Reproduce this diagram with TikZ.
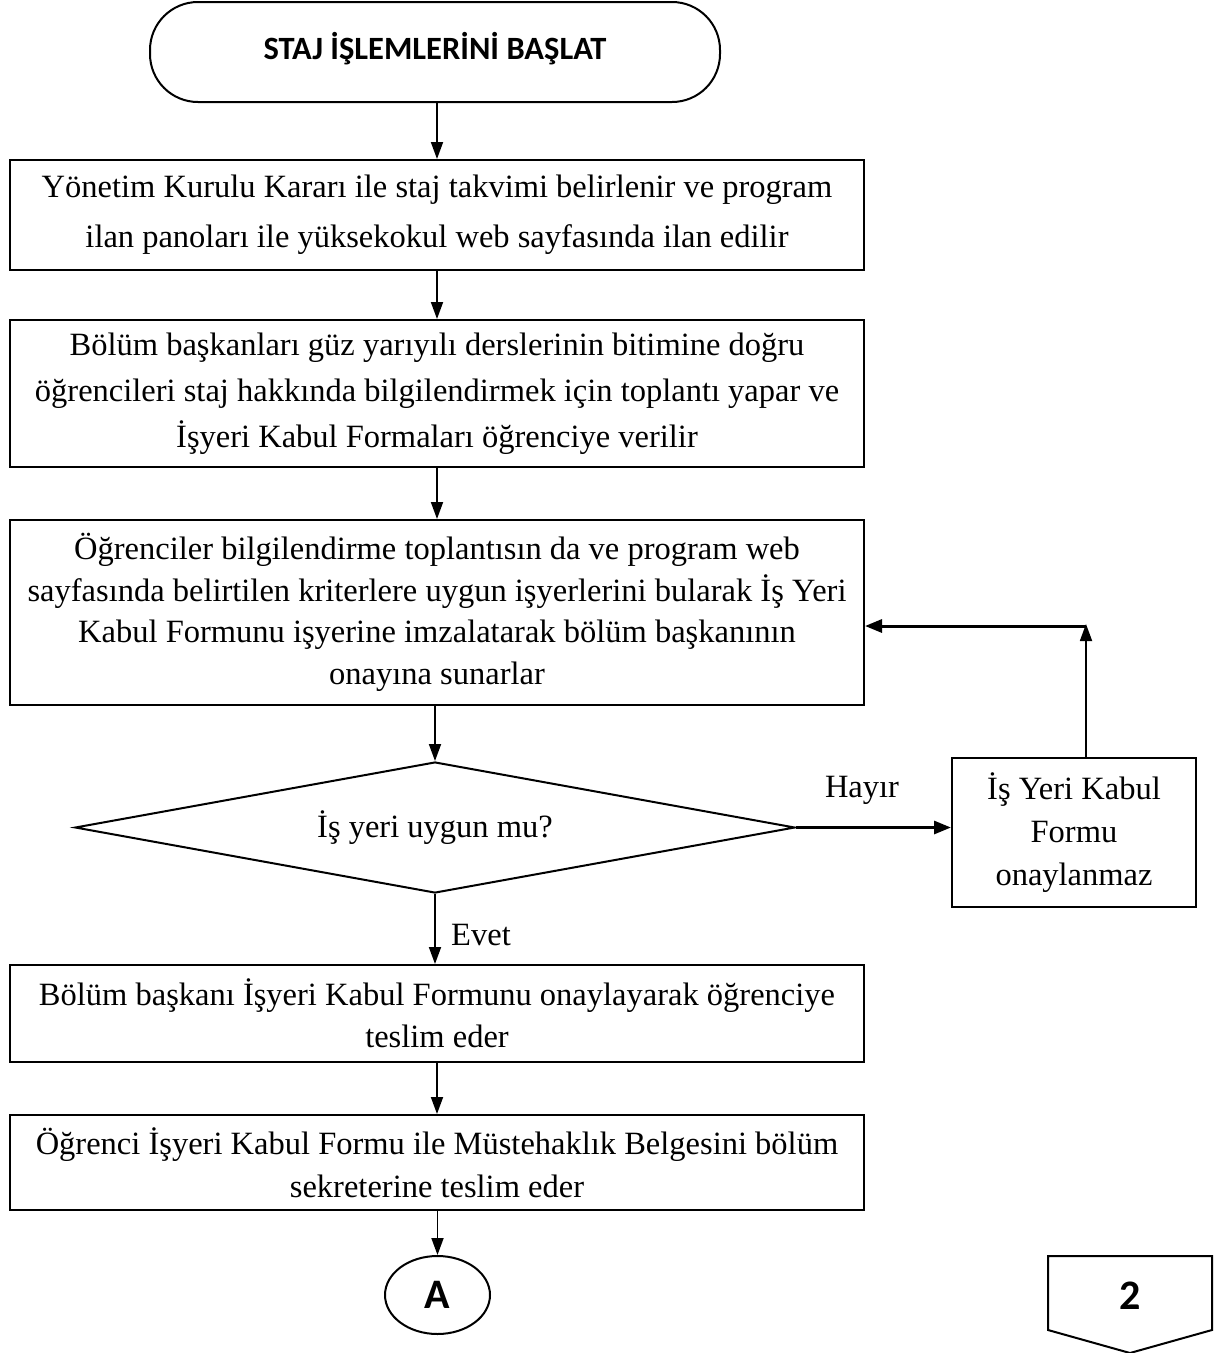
\documentclass[tikz,border=0pt]{standalone}
\usepackage{fontspec}
\setmainfont{Liberation Serif}
\newfontfamily\calib{Carlito}
\usetikzlibrary{arrows.meta,shapes.geometric}
\tikzset{
  box/.style={draw, line width=2, rectangle, inner sep=0, align=center,
    minimum width=854, font=\fontsize{32.5}{#1}\selectfont},
  box/.default=44,
  conn/.style={line width=1.8, -{Triangle[length=17,width=12]}},
  thick conn/.style={line width=3, -{Triangle[length=17,width=13]}},
  lbl/.style={font=\fontsize{32.5}{38}\selectfont, inner sep=0},
}
\begin{document}
\begin{tikzpicture}[x=1pt,y=-1pt]
\useasboundingbox (0,0) rectangle (1214,1353);
% start terminal
\node[draw, line width=2, rounded corners=48, minimum width=570, minimum height=100,
  inner sep=0, font=\calib\bfseries\fontsize{32.5}{38}\selectfont, text depth=12]
  (start) at (435,52) {STAJ İŞLEMLERİNİ BAŞLAT};
% process boxes
\node[box=50, minimum height=110] (b2) at (437,215)
  {Yönetim Kurulu Kararı ile staj takvimi belirlenir ve program\\
   ilan panoları ile yüksekokul web sayfasında ilan edilir};
\node[box=46, minimum height=147] (b3) at (437,393.5)
  {Bölüm başkanları güz yarıyılı derslerinin bitimine doğru\\
   öğrencileri staj hakkında bilgilendirmek için toplantı yapar ve\\
   İşyeri Kabul Formaları öğrenciye verilir};
\node[box=41.5, minimum height=185] (b4) at (437,612.5)
  {Öğrenciler bilgilendirme toplantısın da ve program web\\
   sayfasında belirtilen kriterlere uygun işyerlerini bularak İş Yeri\\
   Kabul Formunu işyerine imzalatarak bölüm başkanının\\
   onayına sunarlar};
% decision
\node[draw, line width=2, diamond, aspect=5.5, minimum width=720, minimum height=131,
  inner sep=0, font=\fontsize{32.5}{38}\selectfont] (dia) at (435,827.5) {İş yeri uygun mu?};
\node[box=43, minimum width=244, minimum height=149] (b5) at (1074,832.5)
  {İş Yeri Kabul\\ Formu\\ onaylanmaz};
\node[box=42, minimum height=97] (b6) at (437,1013.5)
  {Bölüm başkanı İşyeri Kabul Formunu onaylayarak öğrenciye\\ teslim eder};
\node[box=43, minimum height=95] (b7) at (437,1162.5)
  {Öğrenci İşyeri Kabul Formu ile Müstehaklık Belgesini bölüm\\ sekreterine teslim eder};
% connectors
\node[draw, line width=2, ellipse, minimum width=105, minimum height=78, inner sep=0,
  font=\calib\bfseries\fontsize{42}{46}\selectfont] (conA) at (437.5,1295) {A};
\node[inner sep=0, font=\calib\bfseries\fontsize{42}{46}\selectfont] (pg) at (1130,1296) {2};
\draw[line width=2, line join=miter] (pg.center) ++(-82,-40) -- ++(164,0) -- ++(0,74)
  -- ++(-82,23) -- ++(-82,-23) -- cycle;
% flow arrows
\draw[conn] (start.south -| b2.north) -- (b2.north);
\draw[conn] (b2) -- (b3);
\draw[conn] (b3) -- (b4);
\draw[conn] (b4.south -| dia.north) -- (dia.north);
\draw[conn] (dia.south) -- (dia.south |- b6.north);
\draw[conn] (b6) -- (b7);
\draw[conn] (b7.south -| conA.north) -- (conA.north);
\draw[thick conn] (dia.east) -- (dia.east -| b5.west);
\coordinate (turn) at (1086,626);
\draw[conn] (b5.north -| turn) -- ([yshift=2]turn);
\draw[thick conn] (turn) -- (turn -| b4.east);
% branch labels
\node[lbl] (hayir) at (862,790) {Hayır};
\node[lbl] (evet) at (481,935) {Evet};
\end{tikzpicture}
\end{document}
